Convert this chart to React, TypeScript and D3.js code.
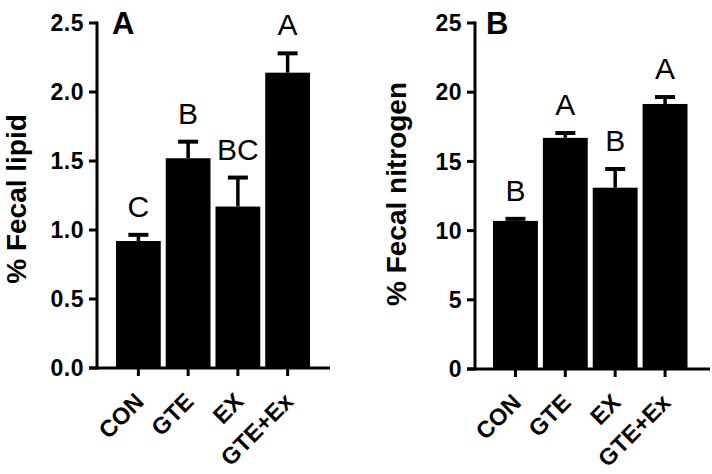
import React from "react";
import * as d3 from "d3";

const categories = ["CON", "GTE", "EX", "GTE+Ex"];
const lipidMean = [0.92, 1.52, 1.17, 2.14];
const lipidErr = [0.045, 0.12, 0.21, 0.14];
const lipidLetters = ["C", "B", "BC", "A"];
const lipidTicks = [0, 0.5, 1.0, 1.5, 2.0, 2.5];

const nitroMean = [10.7, 16.7, 13.1, 19.15];
const nitroErr = [0.15, 0.35, 1.35, 0.5];
const nitroLetters = ["B", "A", "B", "A"];
const nitroTicks = [0, 5, 10, 15, 20, 25];

const FONT = "'Liberation Sans', Arial, Helvetica, sans-serif";

type PanelProps = {
  axisX: number;
  y0: number;
  yTop: number;
  yMax: number;
  barRange: [number, number];
  axisEnd: number;
  means: number[];
  errs: number[];
  letters: string[];
  ticks: number[];
  tickFmt: (v: number) => string;
  title: string;
  titleX: number;
  titleY: number;
  panel: string;
  panelX: number;
};

function Panel(p: PanelProps) {
  const y = d3.scaleLinear().domain([0, p.yMax]).range([p.y0, p.yTop]);
  const x = d3
    .scaleBand<string>()
    .domain(categories)
    .range(p.barRange)
    .paddingInner(0.1)
    .paddingOuter(0.05);
  const bw = x.bandwidth();
  return (
    <g>
      {categories.map((c, i) => {
        const cx = (x(c) as number) + bw / 2;
        const top = y(p.means[i]);
        const cap = y(p.means[i] + p.errs[i]);
        return (
          <g key={c}>
            <line x1={cx} x2={cx} y1={top} y2={cap} stroke="#000" strokeWidth={3.5} />
            <line x1={cx - 10} x2={cx + 10} y1={cap} y2={cap} stroke="#000" strokeWidth={4} />
            <rect x={x(c)} y={top} width={bw} height={p.y0 - top} fill="#000" />
            <text
              x={cx}
              y={cap - 18}
              textAnchor="middle"
              fontFamily={FONT}
              fontSize={30}
              fill="#000"
            >
              {p.letters[i]}
            </text>
            <line x1={cx} x2={cx} y1={p.y0} y2={p.y0 + 8} stroke="#000" strokeWidth={3} />
            <text
              transform={`translate(${cx + 7},${p.y0 + 35}) rotate(-45)`}
              textAnchor="end"
              fontFamily={FONT}
              fontWeight="bold"
              fontSize={23.5}
              fill="#000"
            >
              {c}
            </text>
          </g>
        );
      })}
      <line x1={p.axisX} x2={p.axisX} y1={p.yTop - 1.5} y2={p.y0 + 1.5} stroke="#000" strokeWidth={3} />
      <line x1={p.axisX - 8} x2={p.axisEnd} y1={p.y0} y2={p.y0} stroke="#000" strokeWidth={3} />
      {p.ticks.map((t) => (
        <g key={t}>
          <line x1={p.axisX - 8} x2={p.axisX} y1={y(t)} y2={y(t)} stroke="#000" strokeWidth={3} />
          <text
            x={p.axisX - 13}
            y={y(t)}
            dy="0.36em"
            textAnchor="end"
            fontFamily={FONT}
            fontWeight="bold"
            fontSize={23}
            letterSpacing={0.5}
            fill="#000"
          >
            {p.tickFmt(t)}
          </text>
        </g>
      ))}
      <text
        transform={`translate(${p.titleX},${p.titleY}) rotate(-90)`}
        textAnchor="middle"
        fontFamily={FONT}
        fontWeight="bold"
        fontSize={28}
        fill="#000"
      >
        {p.title}
      </text>
      <text
        x={p.panelX}
        y={p.yTop + 11}
        fontFamily={FONT}
        fontWeight="bold"
        fontSize={31}
        fill="#000"
      >
        {p.panel}
      </text>
    </g>
  );
}

export default function App() {
  return (
    <svg
      width={712}
      height={474}
      style={{ position: "absolute", left: 0, top: 0, background: "#fff" }}
    >
      <Panel
        axisX={97}
        y0={368}
        yTop={23}
        yMax={2.5}
        barRange={[113.5, 312.5]}
        axisEnd={330}
        means={lipidMean}
        errs={lipidErr}
        letters={lipidLetters}
        ticks={lipidTicks}
        tickFmt={d3.format(".1f")}
        title="% Fecal lipid"
        titleX={26}
        titleY={199}
        panel="A"
        panelX={112}
      />
      <Panel
        axisX={475}
        y0={369}
        yTop={23}
        yMax={25}
        barRange={[490.5, 690]}
        axisEnd={710}
        means={nitroMean}
        errs={nitroErr}
        letters={nitroLetters}
        ticks={nitroTicks}
        tickFmt={d3.format("d")}
        title="% Fecal nitrogen"
        titleX={406}
        titleY={194}
        panel="B"
        panelX={486}
      />
    </svg>
  );
}
